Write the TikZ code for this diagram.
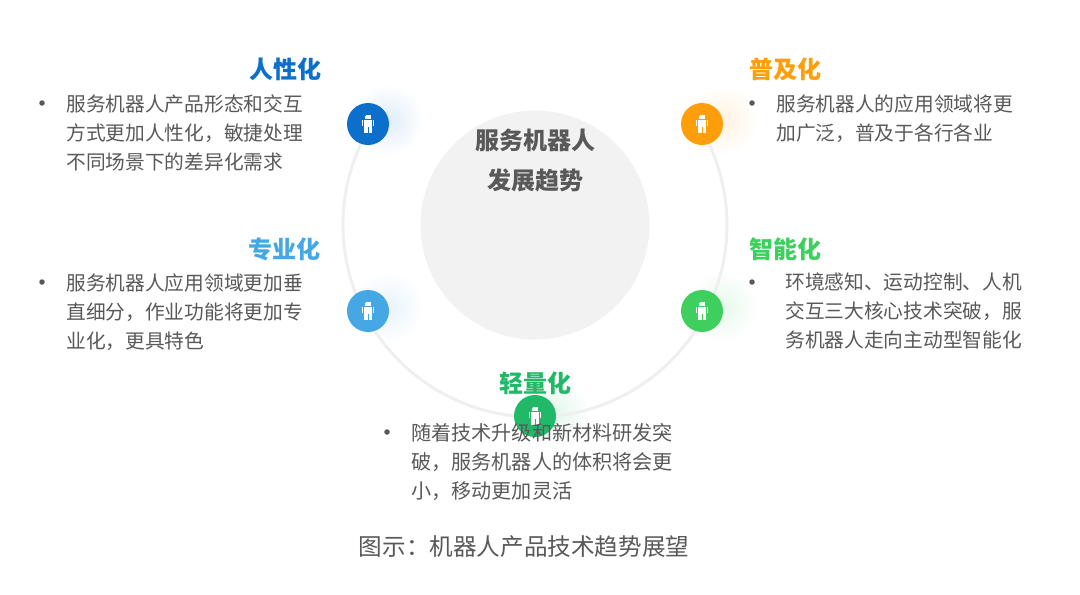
\documentclass[tikz,border=0pt]{standalone}
\usepackage{fontspec}
\setmainfont{Noto Sans CJK SC}
\definecolor{txt}{HTML}{595959}
\definecolor{bluea}{HTML}{0B6FCB}
\definecolor{orangea}{HTML}{FF9E0B}
\definecolor{blueb}{HTML}{45A7E3}
\definecolor{greena}{HTML}{3FCF5F}
\definecolor{greenb}{HTML}{21B968}
\definecolor{ringc}{HTML}{EFEFEF}
\definecolor{hubc}{HTML}{F2F2F2}
\tikzset{
  hubdisc/.style={circle,fill=hubc,minimum size=229*0.75pt,inner sep=0pt},
  icondisc/.style={circle,fill=#1,minimum size=42*0.75pt,inner sep=0pt},
  ringline/.style={draw=ringc,line width=2.2pt},
  headtext/.style={font=\fontsize{18}{22}\selectfont\bfseries,text=#1,inner sep=0pt},
  bodytext/.style={font=\fontsize{14.8}{21.75}\selectfont,text=txt,align=left,inner sep=0pt,anchor=north west},
  bodytextb/.style={font=\fontsize{15.1}{21.75}\selectfont,text=txt,align=left,inner sep=0pt,anchor=north west},
  hubtext/.style={font=\fontsize{18}{30}\selectfont\bfseries,text=txt,align=center,inner sep=0pt},
  captext/.style={font=\fontsize{17.7}{22}\selectfont,text=txt,inner sep=0pt},
  bulletdot/.style={circle,fill=txt,minimum size=5.5*0.75pt,inner sep=0pt},
  pics/robotfig/.style={code={
    \fill[white] (-2.8,-7.6) rectangle (2.8,-5);
    \fill[white] (-4,-4.4) rectangle (4,3.2);
    \fill[white] (-6.4,-4.4) rectangle (-4.6,2.2);
    \fill[white] (4.6,-4.4) rectangle (6.4,2.2);
    \fill[white] (-3.6,3.2) rectangle (-0.5,9.2);
    \fill[white] (0.5,3.2) rectangle (3.6,9.2);
    \draw[white,line width=0.5pt] (-2.5,-9) -- (2.5,-9);
  }}
}
\newcommand{\glow}[3]{\shade[inner color=#1!13,outer color=white,draw=none] (#2,#3) circle (36);}
\begin{document}
\begin{tikzpicture}[x=0.75pt,y=-0.75pt]
\useasboundingbox (0,0) rectangle (1080,594);
\fill[white] (0,0) rectangle (1080,594);
\glow{bluea}{388}{120}
\glow{orangea}{722}{120}
\glow{blueb}{388}{307}
\glow{greena}{722}{307}
\glow{greenb}{553}{412}
\node[hubdisc] (hub) at (535,225) {};
\coordinate (ringa) at ({535+192*cos(211.2)},{225+192*sin(211.2)});
\draw[ringline] (ringa) arc[start angle=211.2,end angle=-31.2,radius=192];
\node[icondisc=bluea] (n1) at (368,124) {};
\node[icondisc=orangea] (n2) at (702,124) {};
\node[icondisc=blueb] (n3) at (368,311) {};
\node[icondisc=greena] (n4) at (702,311) {};
\node[icondisc=greenb] (n5) at (535,416) {};
\pic at (n1) {robotfig};
\pic at (n2) {robotfig};
\pic at (n3) {robotfig};
\pic at (n4) {robotfig};
\pic at (n5) {robotfig};
\node[hubtext] (hubt) at (535,160) {服务机器人\\发展趋势};
\node[headtext=bluea,anchor=east] (t1) at (322,69) {人性化};
\node[headtext=orangea,anchor=west] (t2) at (749,69) {普及化};
\node[headtext=blueb,anchor=east] (t3) at (321,249) {专业化};
\node[headtext=greena,anchor=west] (t4) at (749,249) {智能化};
\node[headtext=greenb] (t5) at (535,383) {轻量化};
\node[bulletdot] (b1) at (42,103) {};
\node[bulletdot] (b2) at (752,103) {};
\node[bulletdot] (b3) at (42,282) {};
\node[bulletdot] (b4) at (752,282) {};
\node[bulletdot] (b5) at (387,432) {};
\node[bodytext] (d1) at (66,94) {服务机器人产品形态和交互\\方式更加人性化，敏捷处理\\不同场景下的差异化需求};
\node[bodytext] (d2) at (776,94) {服务机器人的应用领域将更\\加广泛，普及于各行各业};
\node[bodytext] (d3) at (66,273) {服务机器人应用领域更加垂\\直细分，作业功能将更加专\\业化，更具特色};
\node[bodytext] (d4) at (785,273) {环境感知、运动控制、人机\\交互三大核心技术突破，服\\务机器人走向主动型智能化};
\node[bodytextb] (d5) at (411,423) {随着技术升级和新材料研发突\\破，服务机器人的体积将会更\\小，移动更加灵活};
\node[captext] (cap) at (524,547) {图示：机器人产品技术趋势展望};
\end{tikzpicture}
\end{document}
